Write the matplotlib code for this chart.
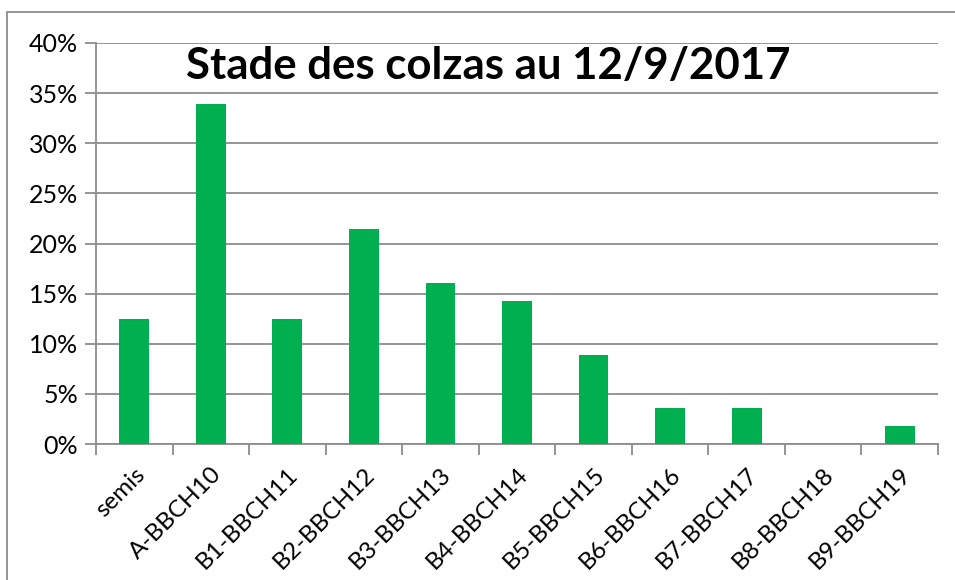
import matplotlib
matplotlib.use("Agg")
import matplotlib.pyplot as plt
from matplotlib.patches import Rectangle
from matplotlib.ticker import PercentFormatter

categories = ["semis", "A-BBCH10", "B1-BBCH11", "B2-BBCH12", "B3-BBCH13", "B4-BBCH14",
              "B5-BBCH15", "B6-BBCH16", "B7-BBCH17", "B8-BBCH18", "B9-BBCH19"]
values = [12.5, 33.9, 12.5, 21.4, 16.1, 14.3, 8.9, 3.6, 3.6, 0.0, 1.8]
yticks = [0, 5, 10, 15, 20, 25, 30, 35, 40]
title = "Stade des colzas au 12/9/2017"

W, H = 955, 580
fig = plt.figure(figsize=(W / 100, H / 100), dpi=100)
ax = fig.add_axes([96 / W, 1 - 444 / H, (938 - 96) / W, (444 - 43) / H])

x = range(len(categories))
ax.bar(x, values, width=0.39, color="#00B050", zorder=3)
ax.set_xlim(-0.5, len(categories) - 0.5)
ax.set_ylim(0, 40)
ax.set_yticks(yticks)
ax.yaxis.set_major_formatter(PercentFormatter(decimals=0))
ax.grid(axis="y", color="#8c8c8c", linewidth=1.3, zorder=0)
for s in ["top", "right"]:
    ax.spines[s].set_visible(False)
for s in ["left", "bottom"]:
    ax.spines[s].set_color("#8c8c8c")
    ax.spines[s].set_linewidth(1.3)

ax.set_xticks([i - 0.5 for i in range(len(categories) + 1)], minor=False)
ax.set_xticklabels([])
ax.set_xticks(list(x), minor=True)
ax.set_xticklabels(categories, minor=True, rotation=45, ha="right", va="top",
                   rotation_mode="anchor", fontsize=17.5, family="Lato")
ax.tick_params(axis="x", which="major", length=8, width=1.3, color="#8c8c8c")
ax.tick_params(axis="x", which="minor", length=0, pad=14)
ax.tick_params(axis="y", length=8, width=1.3, color="#8c8c8c", labelsize=18, pad=5)
for lab in ax.get_yticklabels():
    lab.set_family("Lato")

fig.text(488 / W, 1 - 66 / H, title, ha="center", va="center",
         fontsize=31.5, fontweight="bold", family="Lato")

fig.patches.append(Rectangle((7 / W, -0.1), 1.2, 1 - 12 / H + 0.1, transform=fig.transFigure,
                             fill=False, edgecolor="#8c8c8c", linewidth=1.3, zorder=0))

fig.savefig("out.png", dpi=100)
